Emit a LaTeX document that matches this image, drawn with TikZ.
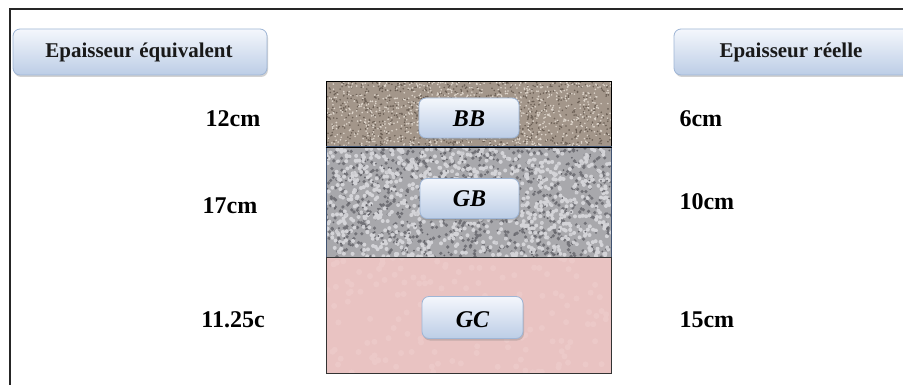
\documentclass[tikz,border=0pt]{standalone}
\usepackage{fontspec}
\setmainfont{Liberation Serif}
\usetikzlibrary{shadows}
\definecolor{btntop}{HTML}{F4F7FC}
\definecolor{btnbot}{HTML}{BCCDE6}
\definecolor{btnedge}{HTML}{9FB6D6}
\definecolor{bbbase}{HTML}{A3968A}
\definecolor{bbdark}{HTML}{6C6056}
\definecolor{bblight}{HTML}{DDD4CA}
\definecolor{gbbase}{HTML}{A8A8AC}
\definecolor{gbdark}{HTML}{65656B}
\definecolor{gblight}{HTML}{DCDCE0}
\definecolor{gcbase}{HTML}{E9C3C2}
\definecolor{gcvar}{HTML}{EFD0CF}
\definecolor{layeredge}{HTML}{3F5270}
\tikzset{
  btn/.style={rounded corners=7pt, top color=btntop, bottom color=btnbot, draw=btnedge, line width=0.8pt,
    drop shadow={shadow xshift=1pt, shadow yshift=-2pt, opacity=0.35}},
  head/.style={font=\fontsize{21}{24}\selectfont\bfseries, anchor=base, text=black!90},
  num/.style={font=\fontsize{24}{28}\selectfont\bfseries, anchor=base},
  tag/.style={font=\fontsize{24}{28}\selectfont\bfseries\itshape, anchor=base},
}
\begin{document}
\begin{tikzpicture}[x=1pt,y=-1pt]
\useasboundingbox (0,0) rectangle (903,385);
\fill[white] (0,0) rectangle (903,385);
\begin{scope}
\clip (0,0) rectangle (903,385);
\draw[line width=2.5pt, black!85] (10,9) rectangle (930,420);
\end{scope}
% headings
\node[btn, minimum width=254pt, minimum height=46pt] (hl) at (140,52) {};
\node[head] (hlt) at (139,58) {Epaisseur équivalent};
\node[btn, minimum width=240pt, minimum height=46pt] (hr) at (794,52) {};
\node[head] (hrt) at (791,58) {Epaisseur réelle};
% layers
\pgfmathsetseed{7}
\begin{scope}
\clip (326,82) rectangle (611,147);
\fill[bbbase] (326,82) rectangle (611,147);
\fill[bbdark] \foreach \i in {1,...,900} { ({326+285*rnd},{82+65*rnd}) circle (0.9) };
\fill[bblight] \foreach \i in {1,...,900} { ({326+285*rnd},{82+65*rnd}) circle (0.9) };
\end{scope}
\begin{scope}
\clip (326,147) rectangle (611,257);
\fill[gbbase] (326,147) rectangle (611,257);
\fill[gbdark, opacity=0.8] \foreach \i in {1,...,700} { ({326+285*rnd},{147+110*rnd}) circle (1.8) };
\fill[gblight, opacity=0.85] \foreach \i in {1,...,900} { ({326+285*rnd},{147+110*rnd}) circle (2) };
\fill[gbdark] \foreach \i in {1,...,200} { ({326+285*rnd},{147+110*rnd}) circle (1) };
\end{scope}
\begin{scope}
\clip (326,257) rectangle (611,373);
\fill[gcbase] (326,257) rectangle (611,373);
\fill[gcvar, opacity=0.5] \foreach \i in {1,...,150} { ({326+285*rnd},{257+116*rnd}) circle (3) };
\end{scope}
\node[draw=black, line width=1pt, minimum width=285pt, minimum height=65pt, inner sep=0pt] (bb) at (468.5,114.5) {};
\node[draw=layeredge, line width=1pt, minimum width=285pt, minimum height=110pt, inner sep=0pt] (gb) at (468.5,202) {};
\node[draw=black!80, line width=1pt, minimum width=285pt, minimum height=116pt, inner sep=0pt] (gc) at (468.5,315) {};
\draw[black, line width=1pt] (bb.south west) -- (bb.south east);
% layer tags
\node[btn, minimum width=100pt, minimum height=40pt] (bbb) at (469,118) {};
\node[tag] (bbt) at (469,127) {BB};
\node[btn, minimum width=99pt, minimum height=40pt] (gbb) at (469.5,198.5) {};
\node[tag] (gbt) at (469.5,207) {GB};
\node[btn, minimum width=101pt, minimum height=42pt] (gcb) at (472.5,317.5) {};
\node[tag] (gct) at (472.5,327) {GC};
% values
\node[num] (l1) at (233,127) {12cm};
\node[num] (l2) at (230,214) {17cm};
\node[num] (l3) at (233,327) {11.25c};
\node[num, anchor=base west] (r1) at (676,127) {6cm};
\node[num, anchor=base west] (r2) at (676,210) {10cm};
\node[num, anchor=base west] (r3) at (676,327) {15cm};
\end{tikzpicture}
\end{document}
